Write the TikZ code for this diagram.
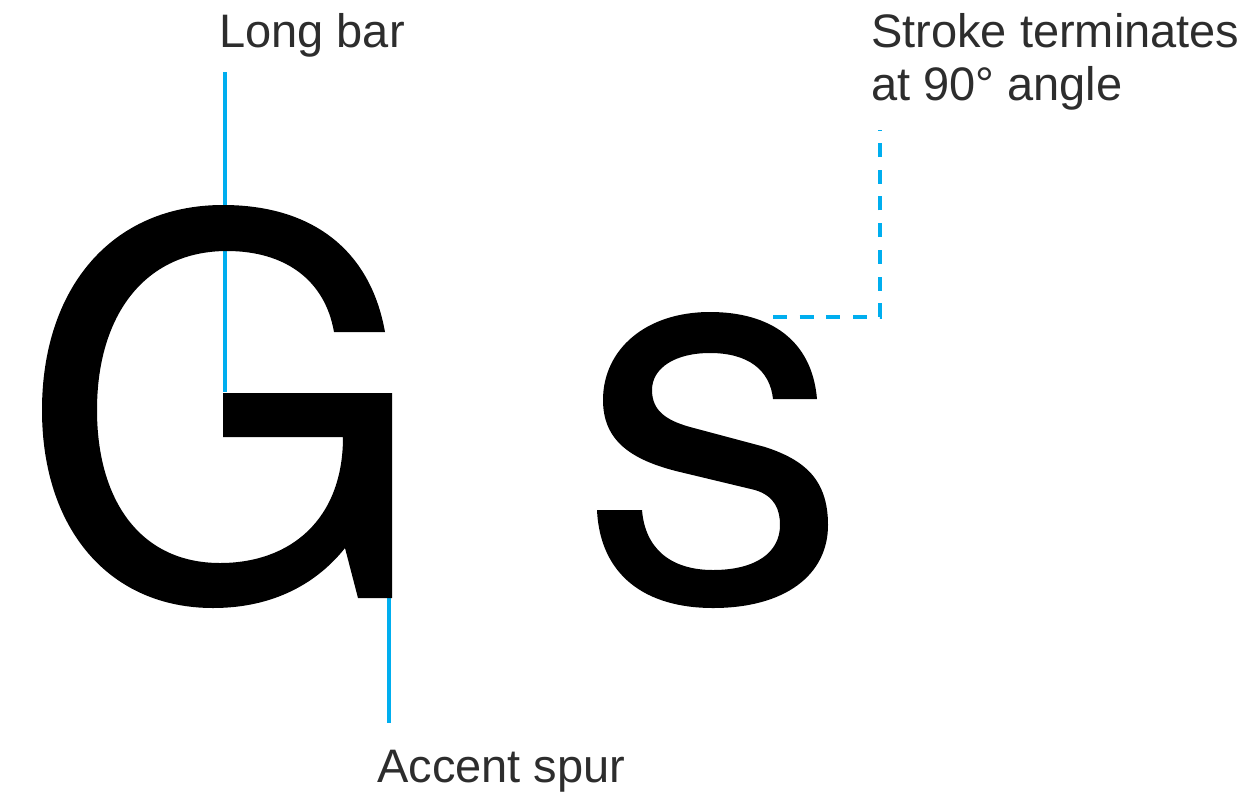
\documentclass[tikz,border=0pt]{standalone}
\usepackage{fontspec}
\setmainfont{Liberation Sans}
\usepackage{tikz}
\usetikzlibrary{positioning}
\definecolor{leadblue}{HTML}{00AEEF}
\definecolor{labelgray}{HTML}{2D2D2D}
\tikzset{
  lbl/.style={inner sep=0pt, anchor=base west, text=labelgray, font=\fontsize{47}{53}\selectfont},
  leader/.style={draw=leadblue, line width=4pt},
  glyph/.style={fill=black, draw=none},
}

\begin{document}
\begin{tikzpicture}[x=1pt,y=-1pt]
  \useasboundingbox (0,0) rectangle (1255,801);
  % labels
  \node[lbl] (longbar) at (219,47) {Long bar};
  \node[lbl] (stroke1) at (871,47) {Stroke terminates};
  \node[lbl] (stroke2) at ([yshift=-53pt]stroke1.base west) {at 90° angle};
  \node[lbl] (spur) at (377,782) {Accent spur};
  % leader ends
  \coordinate (bartop) at (225,72);
  \coordinate (barend) at (225,392);
  \coordinate (spurtop) at (389,575);
  \coordinate (spurend) at (389,723);
  \coordinate (sterm) at (773,317);
  \coordinate (strokeend) at (880,130);
  \draw[leader] (bartop) -- (barend);
  \draw[leader] (spurtop) -- (spurend);
  \draw[leader, dash pattern=on 14pt off 12.7pt] (sterm) -| (strokeend);
  % the G
  \fill[glyph] (385,332) .. controls (370,248) and (310,205) .. (223,205)
    .. controls (110,205) and (42,290) .. (42,410)
    .. controls (42,530) and (110,608) .. (213,608)
    .. controls (275,608) and (318,582) .. (345,548)
    -- (358,598) -- (392,598) -- (392,393) -- (223,393) -- (223,437) -- (343,437)
    .. controls (343,520) and (290,563) .. (220,563)
    .. controls (140,563) and (97,500) .. (97,410)
    .. controls (97,315) and (145,251) .. (227,251)
    .. controls (285,251) and (325,280) .. (334,332) -- cycle;
  % the s
  \fill[glyph] (817,399) .. controls (812,340) and (770,312) .. (710,312)
    .. controls (645,312) and (603,350) .. (603,400)
    .. controls (603,440) and (630,460) .. (680,472)
    -- (755,490)
    .. controls (775,496) and (780,510) .. (780,525)
    .. controls (780,553) and (755,570) .. (713,570)
    .. controls (670,570) and (645,548) .. (642,510)
    -- (597,510)
    .. controls (600,575) and (645,608) .. (713,608)
    .. controls (785,608) and (828,575) .. (828,525)
    .. controls (828,480) and (805,460) .. (765,447)
    -- (690,427)
    .. controls (665,420) and (652,410) .. (652,390)
    .. controls (652,368) and (675,353) .. (710,353)
    .. controls (748,353) and (770,370) .. (773,399) -- cycle;
\end{tikzpicture}
\end{document}
